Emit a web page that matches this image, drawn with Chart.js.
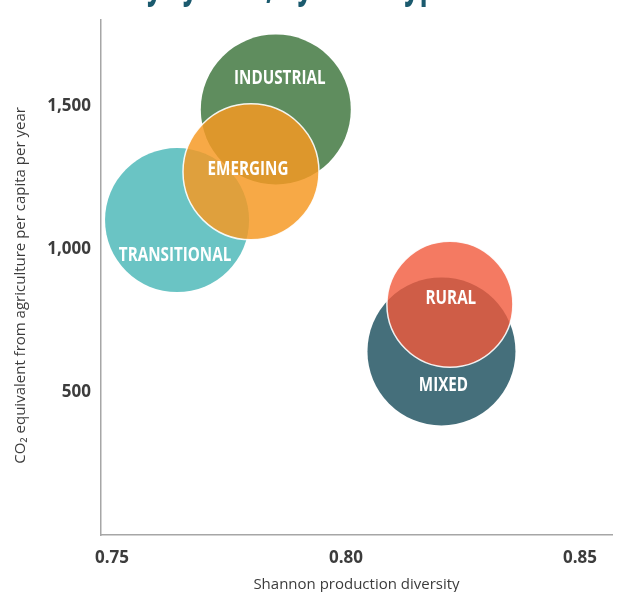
<!DOCTYPE html>
<html>
<head>
<meta charset="utf-8">
<script src="https://cdn.jsdelivr.net/npm/chart.js"></script>
<style>
  body { margin: 0; background: #fff; }
  #wrap { width: 619px; height: 592px; }
</style>
</head>
<body>
<div id="wrap"><canvas id="myChart" width="619" height="592"></canvas></div>

<script>
// data
const systems = ['TRANSITIONAL', 'INDUSTRIAL', 'EMERGING', 'MIXED', 'RURAL'];
const diversity = [0.7639, 0.7850, 0.7797, 0.8204, 0.8222];
const co2 = [1101, 1488, 1270, 642, 807];
const bubbleSize = [72, 75, 68, 74, 63];
const xTicks = [0.75, 0.80, 0.85];
const yTicks = [500, 1000, 1500];

const colors = ['#6ac4c4', '#5f8d5e', 'rgba(245,153,34,0.84)', '#456f7b', 'rgba(241,89,59,0.8)'];
const borders = [0, 0, 1.5, 0, 1.5];
// label offset from bubble centre (px)
const labelShift = [[-2, 35], [4, -31], [-3, -2], [2, 34], [1, -6]];

const ctx = document.getElementById('myChart').getContext('2d');

// white labels inside the bubbles (squeezed to look like a condensed face)
const bubbleLabels = {
  id: 'bubbleLabels',
  afterDatasetsDraw(chart) {
    const c = chart.ctx;
    const meta = chart.getDatasetMeta(0);
    meta.data.forEach((pt, i) => {
      c.save();
      c.translate(pt.x + labelShift[i][0], pt.y + labelShift[i][1]);
      c.scale(0.8, 1);
      c.font = 'bold 19px "Open Sans", sans-serif';
      c.fillStyle = '#ffffff';
      c.textAlign = 'center';
      c.textBaseline = 'middle';
      c.fillText(systems[i], 0, 0);
      c.restore();
    });
  }
};

// title that is cut off at the top edge of the picture, only descenders show
const cutTitle = {
  id: 'cutTitle',
  afterDraw(chart) {
    const c = chart.ctx;
    c.save();
    c.font = 'bold 27px "Open Sans", sans-serif';
    c.fillStyle = '#1b5a6e';
    c.textAlign = 'left';
    c.textBaseline = 'alphabetic';
    const x0 = 147 - c.measureText('Emission intensities b').width;
    c.translate(0, -3);
    c.scale(1, 1.6);
    c.fillText('Emission intensities by system, by farm type', x0, 0);
    c.restore();
  }
};

new Chart(ctx, {
  type: 'bubble',
  data: {
    datasets: [{
      data: systems.map((s, i) => ({ x: diversity[i], y: co2[i], r: bubbleSize[i] })),
      backgroundColor: colors,
      borderColor: 'rgba(255,255,255,0.9)',
      borderWidth: borders,
      hoverRadius: 0
    }]
  },
  options: {
    responsive: false,
    animation: false,
    events: [],
    layout: { autoPadding: false, padding: { top: 15, right: 7, left: 0, bottom: 0 } },
    plugins: {
      legend: { display: false },
      tooltip: { enabled: false }
    },
    scales: {
      x: {
        type: 'linear',
        min: 0.74765,
        max: 0.85684,
        afterBuildTicks: axis => { axis.ticks = xTicks.map(v => ({ value: v })); },
        afterFit: axis => { axis.height = 57; },
        grid: { display: false, drawTicks: false },
        border: { color: '#a6a6a6', width: 1.5 },
        ticks: {
          padding: 13,
          color: '#3c3c3c',
          font: { family: '"Open Sans", sans-serif', size: 17, weight: 'bold' },
          callback: v => v.toFixed(2),
          maxRotation: 0
        },
        title: {
          display: true,
          text: 'Shannon production diversity',
          color: '#3c3c3c',
          font: { family: '"Open Sans", sans-serif', size: 15 },
          padding: { top: 0, bottom: -2 }
        }
      },
      y: {
        type: 'linear',
        min: 0,
        max: 1800,
        afterBuildTicks: axis => { axis.ticks = yTicks.map(v => ({ value: v })); },
        afterFit: axis => { axis.width = 101; },
        grid: { display: false, drawTicks: false },
        border: { color: '#a6a6a6', width: 1.5 },
        ticks: {
          padding: 10,
          color: '#3c3c3c',
          font: { family: '"Open Sans", sans-serif', size: 17, weight: 'bold' },
          callback: v => v.toLocaleString('en-US')
        },
        title: {
          display: true,
          text: 'CO₂ equivalent from agriculture per capita per year    ',
          color: '#3c3c3c',
          font: { family: '"Open Sans", sans-serif', size: 15 },
          padding: { top: 12, bottom: 0 }
        }
      }
    }
  },
  plugins: [bubbleLabels, cutTitle]
});
</script>
</body>
</html>
